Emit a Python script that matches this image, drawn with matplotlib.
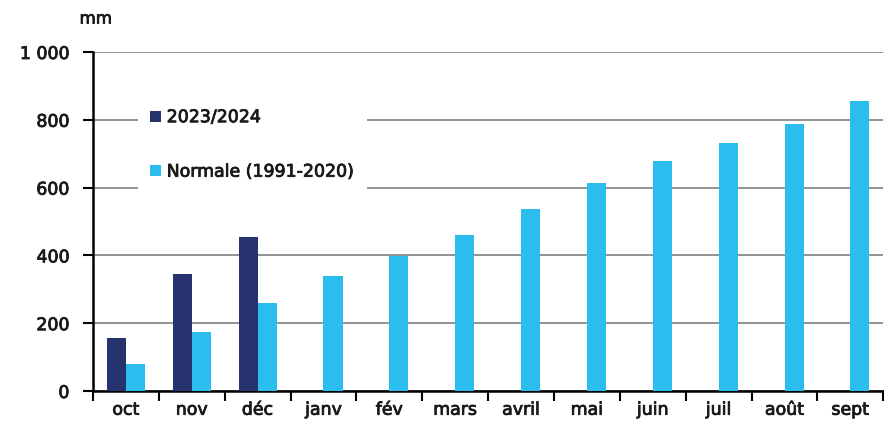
import matplotlib
matplotlib.use("Agg")
from matplotlib import pyplot as plt
from matplotlib import patheffects
import numpy as np

months = ["oct", "nov", "déc", "janv", "fév", "mars", "avril", "mai", "juin", "juil", "août", "sept"]
current = [156, 345, 454]
normale = [80, 174, 260, 339, 398, 460, 537, 613, 678, 732, 788, 855]
label_current = "2023/2024"
label_normale = "Normale (1991-2020)"

dark = "#27336e"
light = "#2bbdee"
txt = "#1a1a1a"
thick = [patheffects.withStroke(linewidth=0.6, foreground=txt)]

plt.rcParams["font.family"] = ["DejaVu Sans"]
plt.rcParams["font.size"] = 12.5
plt.rcParams["text.color"] = txt
plt.rcParams["xtick.labelcolor"] = txt
plt.rcParams["ytick.labelcolor"] = txt

fig = plt.figure(figsize=(8.84, 4.35), dpi=100)
ax = fig.add_axes([0.1052, 0.0989, 0.894, 0.7793])

x = np.arange(len(months))
w = 0.29
ax.bar(x[:len(current)] - w / 2, current, w, color=dark, label=label_current, zorder=3)
ax.bar(x + w / 2, normale, w, color=light, label=label_normale, zorder=3)

ax.set_xlim(-0.5, len(months) - 0.5)
ax.set_ylim(0, 1000)
ax.set_yticks([0, 200, 400, 600, 800, 1000])
ax.set_yticklabels(["0", "200", "400", "600", "800", "1 000"])
ax.yaxis.grid(True, color="#8a8a8a", linewidth=1.3, zorder=0)
ax.set_axisbelow(True)

ax.set_xticks(x)
ax.set_xticklabels(months)
ax.set_xticks(np.arange(len(months) + 1) - 0.5, minor=True)
ax.tick_params(axis="x", which="major", length=0, pad=7)
ax.tick_params(axis="x", which="minor", length=7, width=1.5, direction="out")
ax.tick_params(axis="y", length=7, width=1.5, direction="out", pad=10)

for s in ["top", "right"]:
    ax.spines[s].set_visible(False)
ax.spines["left"].set_linewidth(1.8)
ax.spines["bottom"].set_linewidth(1.8)

mm = fig.text(0.09, 0.955, "mm", fontsize=12, ha="left", va="center")
mm.set_path_effects(thick)

for t in ax.get_xticklabels() + ax.get_yticklabels():
    t.set_path_effects(thick)

leg = ax.legend(loc="upper left", bbox_to_anchor=(0.057, 0.87), frameon=True,
                facecolor="white", edgecolor="none", framealpha=1,
                handlelength=0.6, handleheight=0.6, handletextpad=0.35,
                labelspacing=2.1, borderpad=0.7, borderaxespad=0,
                fancybox=False, fontsize=12.5)
leg.set_zorder(5)
for t in leg.get_texts():
    t.set_path_effects(thick)

fig.savefig("out.png", dpi=100)
